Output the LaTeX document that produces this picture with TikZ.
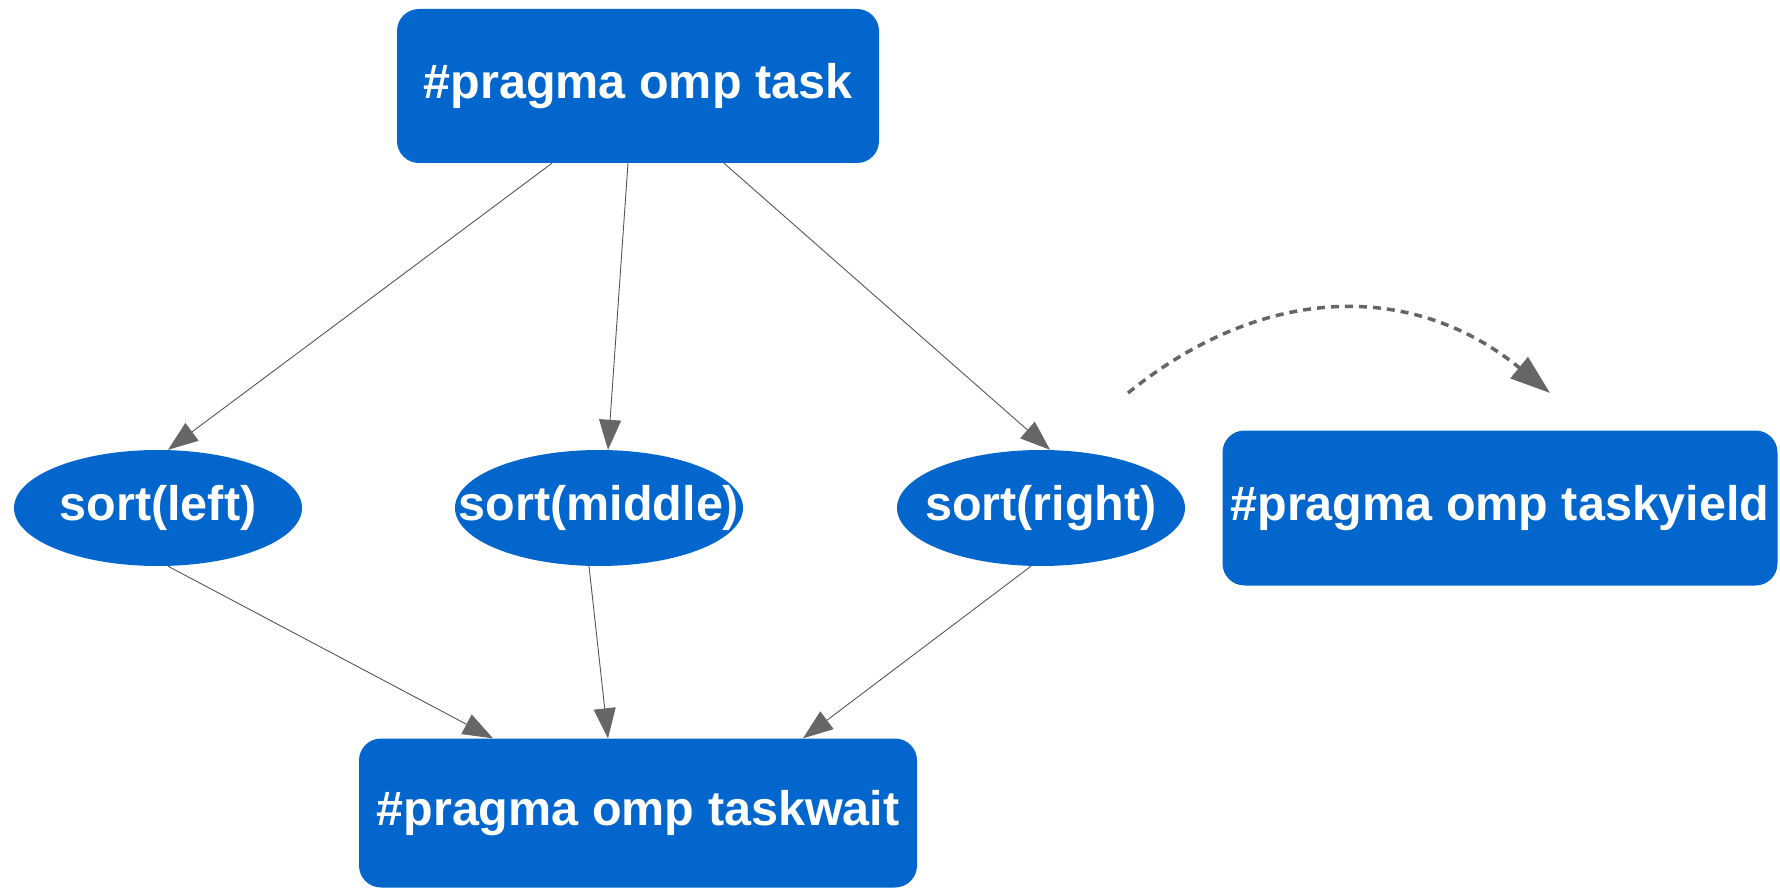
\documentclass[tikz,border=0pt]{standalone}
\usepackage{fontspec}
\setmainfont{Liberation Sans}
\usetikzlibrary{shapes.geometric,arrows.meta,calc}
\definecolor{boxblue}{RGB}{3,102,204}
\definecolor{edgegray}{RGB}{85,85,85}
\definecolor{headgray}{RGB}{102,102,102}
\tikzset{
  lbl/.style={text=white,font=\fontsize{48.5}{57}\selectfont\bfseries},
  boxnode/.style={lbl,fill=boxblue,rectangle,rounded corners=22pt,inner sep=0pt},
  ellnode/.style={lbl,fill=boxblue,ellipse,inner sep=0pt,minimum width=288pt,minimum height=116pt},
  edge/.style={draw=edgegray,line width=0.9pt,-{Triangle[length=30pt,width=22pt,fill=headgray,color=headgray]}},
  yieldarrow/.style={draw=headgray,line width=3.5pt,dash pattern=on 8pt off 6pt,-{Triangle[length=40pt,width=27pt,fill=headgray,color=headgray]}}
}
\begin{document}
\begin{tikzpicture}[x=1pt,y=-1pt]
\useasboundingbox (0,0) rectangle (1780,890);
\node[boxnode,minimum width=482pt,minimum height=154pt] (task) at (638,86) {\#pragma omp task};
\node[ellnode] (left) at (158,508) {\makebox[0pt]{sort(left)}};
\node[ellnode] (middle) at (599,508) {\makebox[0pt]{sort(middle)}};
\node[ellnode] (right) at (1041,508) {\makebox[0pt]{sort(right)}};
\node[boxnode,minimum width=558pt,minimum height=149pt] (wait) at (638,813) {\#pragma omp taskwait};
\node[boxnode,minimum width=555pt,minimum height=155pt] (yield) at (1500,508) {\#pragma omp taskyield};
\draw[edge] ($(task.south)+(-86,0)$) -- ($(left.north)+(10,0)$);
\draw[edge] ($(task.south)+(-10,0)$) -- ($(middle.north)+(9,0)$);
\draw[edge] ($(task.south)+(86,0)$) -- ($(right.north)+(9,0)$);
\draw[edge] ($(left.south)+(10,0)$) -- ($(wait.north)+(-145,0)$);
\draw[edge] ($(middle.south)+(-10,0)$) -- ($(wait.north)+(-30,0)$);
\draw[edge] ($(right.south)+(-10,0)$) -- ($(wait.north)+(165,0)$);
\coordinate (ys) at (1128,393);
\coordinate (ye) at (1550,393);
\draw[yieldarrow] (ys) .. controls (1265,282) and (1415,282) .. (ye);
\end{tikzpicture}
\end{document}
